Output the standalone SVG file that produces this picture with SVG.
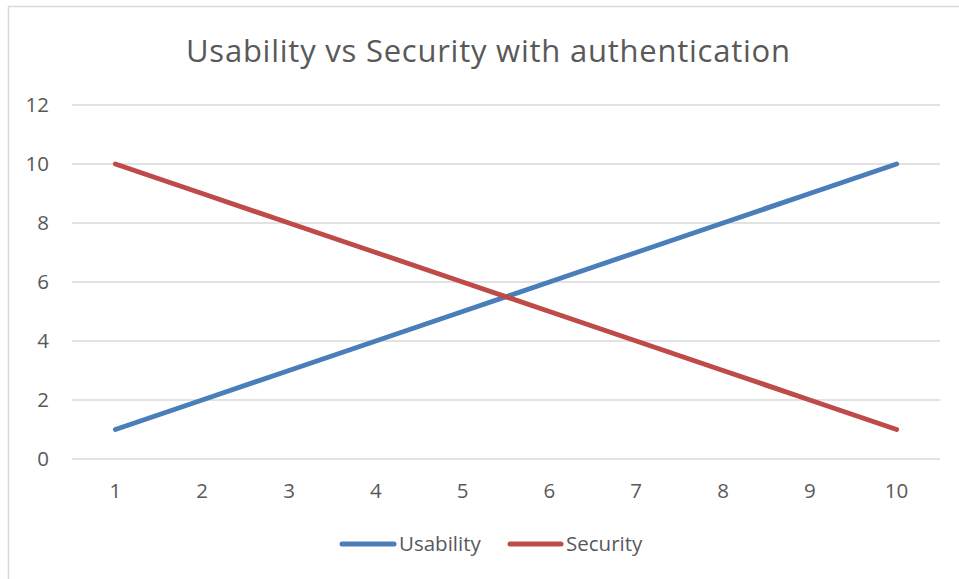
<svg xmlns="http://www.w3.org/2000/svg" width="959" height="579" viewBox="0 0 959 579">
<style>
.grid{stroke:#d9d9d9;stroke-width:1.5}
.lbl{font-family:"Open Sans","Liberation Sans",sans-serif;font-size:20.5px;fill:#595959}
.ylbl{text-anchor:end}
.xlbl{text-anchor:middle}
.ser{fill:none;stroke-width:5;stroke-linecap:round;stroke-linejoin:round}
.u{stroke:#4a7ebb}
.s{stroke:#be4b48}
</style>
<rect x="0" y="0" width="959" height="579" fill="#ffffff"/>
<path d="M8.5 579 V6.5 H959" fill="none" stroke="#d9d9d9" stroke-width="1.5"/>
<text x="488" y="62" text-anchor="middle" font-family="'Open Sans','Liberation Sans',sans-serif" font-size="31" fill="#595959" textLength="604">Usability vs Security with authentication</text>
<g id="gridlines">
<line class="grid" x1="72" y1="105" x2="940" y2="105"/>
<line class="grid" x1="72" y1="164" x2="940" y2="164"/>
<line class="grid" x1="72" y1="223" x2="940" y2="223"/>
<line class="grid" x1="72" y1="282" x2="940" y2="282"/>
<line class="grid" x1="72" y1="341" x2="940" y2="341"/>
<line class="grid" x1="72" y1="400" x2="940" y2="400"/>
<line class="grid" x1="72" y1="459" x2="940" y2="459"/>
</g>
<g id="y-axis" class="lbl ylbl">
<text x="49" y="112">12</text>
<text x="49" y="171">10</text>
<text x="49" y="230">8</text>
<text x="49" y="289">6</text>
<text x="49" y="348">4</text>
<text x="49" y="407">2</text>
<text x="49" y="466">0</text>
</g>
<g id="x-axis" class="lbl xlbl">
<text x="115.4" y="498">1</text>
<text x="202.2" y="498">2</text>
<text x="289" y="498">3</text>
<text x="375.8" y="498">4</text>
<text x="462.6" y="498">5</text>
<text x="549.4" y="498">6</text>
<text x="636.2" y="498">7</text>
<text x="723" y="498">8</text>
<text x="809.8" y="498">9</text>
<text x="896.6" y="498">10</text>
</g>
<g id="series">
<polyline id="usability" class="ser u" points="115.4,429.5 202.2,400 289,370.5 375.8,341 462.6,311.5 549.4,282 636.2,252.5 723,223 809.8,193.5 896.6,164"/>
<polyline id="security" class="ser s" points="115.4,164 202.2,193.5 289,223 375.8,252.5 462.6,282 549.4,311.5 636.2,341 723,370.5 809.8,400 896.6,429.5"/>
</g>
<g id="legend">
<g id="legend-usability">
<line class="ser u" x1="342" y1="544" x2="394" y2="544"/>
<text class="lbl" x="399" y="551">Usability</text>
</g>
<g id="legend-security">
<line class="ser s" x1="510" y1="544" x2="561" y2="544"/>
<text class="lbl" x="566" y="551">Security</text>
</g>
</g>
</svg>
